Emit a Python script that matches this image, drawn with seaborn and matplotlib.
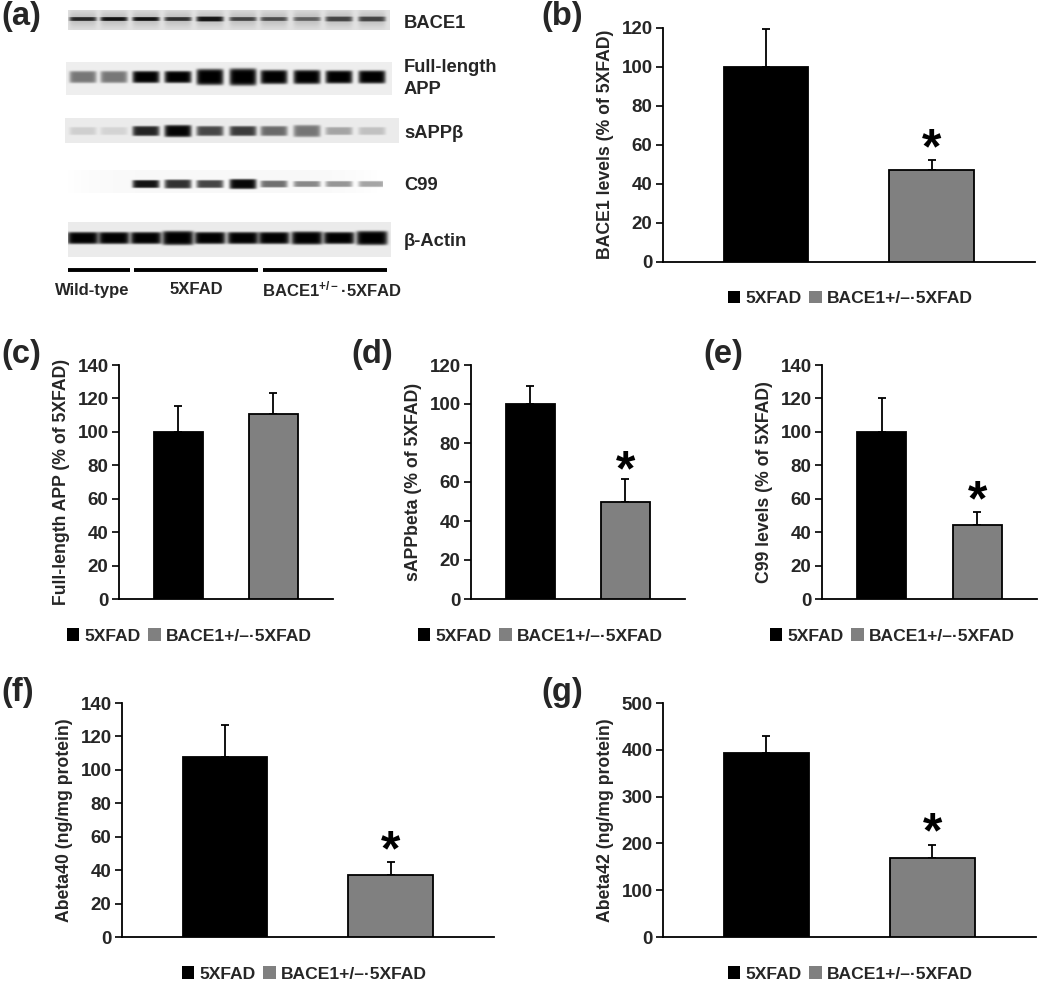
import numpy as np
import pandas as pd
import matplotlib
matplotlib.use("Agg")
import matplotlib.pyplot as plt
from matplotlib.patches import Patch
import seaborn as sns

# --- data ---
GROUPS = ["5XFAD", "BACE1+/–·5XFAD"]
COLORS = {"5XFAD": "#000000", "BACE1+/–·5XFAD": "#808080"}

BACE1_MEAN = [100, 47]
BACE1_TOP = [119, 52]
APP_MEAN = [100, 110.5]
APP_TOP = [115.5, 123]
SAPP_MEAN = [100, 49.5]
SAPP_TOP = [109, 61.5]
C99_MEAN = [100, 44.5]
C99_TOP = [120.5, 52]
AB40_MEAN = [107.5, 37]
AB40_TOP = [127, 45]
AB42_MEAN = [393, 168]
AB42_TOP = [430, 197]

TICKS_120 = [0, 20, 40, 60, 80, 100, 120]
TICKS_140 = [0, 20, 40, 60, 80, 100, 120, 140]
TICKS_500 = [0, 100, 200, 300, 400, 500]

# band darkness and half-height (px) for the ten lanes of each blot
BLOT_BACE1 = [0.80, 0.90, 0.90, 0.75, 0.90, 0.65, 0.60, 0.50, 0.65, 0.65]
BLOT_BACE1_H = [2, 2, 2, 2, 2.5, 2, 2, 2, 2.5, 2.5]
BLOT_APP = [0.50, 0.50, 1, 1, 1, 1, 1, 1, 1, 1]
BLOT_APP_H = [6, 6, 6, 6, 8, 8.5, 7, 7, 6.5, 6.5]
BLOT_SAPP = [0.12, 0.10, 0.85, 0.98, 0.70, 0.75, 0.55, 0.50, 0.30, 0.18]
BLOT_SAPP_H = [4, 4, 5, 6, 5, 5, 5, 6, 4, 4]
BLOT_C99 = [0.0, 0.0, 0.92, 0.80, 0.72, 0.97, 0.55, 0.45, 0.40, 0.35]
BLOT_C99_H = [3, 3, 4, 4.5, 4, 5, 3.5, 3, 3, 3]
BLOT_ACTIN = [1, 1, 1, 1, 1, 1, 1, 1, 1, 1]
BLOT_ACTIN_H = [6, 6, 6, 7, 6, 6, 6, 6.5, 6, 7]

LANE_X = [83, 114, 146, 178, 210, 243, 274, 307, 339, 372]
FIG_W, FIG_H = 1050, 992

sns.set_theme(style="white")
plt.rcParams["font.family"] = ["Liberation Sans", "DejaVu Sans"]
plt.rcParams["font.weight"] = "bold"
plt.rcParams["axes.labelweight"] = "bold"
plt.rcParams["mathtext.fontset"] = "custom"
plt.rcParams["mathtext.bf"] = "Liberation Sans:bold"
plt.rcParams["mathtext.rm"] = "Liberation Sans:bold"
plt.rcParams["mathtext.default"] = "bf"

fig = plt.figure(figsize=(FIG_W / 100, FIG_H / 100), dpi=100)


def px_axes(x0, y0, x1, y1):
    # pixel box of the reference -> figure axes
    return fig.add_axes([x0 / FIG_W, 1 - y1 / FIG_H, (x1 - x0) / FIG_W, (y1 - y0) / FIG_H])


def draw_blot(box, yc, dark, half, bg, smear=0.0, edge_fade=False, lane_w=13.5):
    x0, y0, x1, y1 = box
    xs = np.arange(x0, x1) + 0.5
    ys = np.arange(y0, y1) + 0.5
    img = np.full((len(ys), len(xs)), float(bg))
    if edge_fade:
        img = bg + (1 - bg) * np.abs(np.linspace(-1, 1, len(xs)))[None, :] ** 4
    for cx, d, h in zip(LANE_X, dark, half):
        prof_x = np.exp(-(np.abs(xs - cx) / lane_w) ** 8)
        prof_y = np.exp(-(np.abs(ys - yc) / h) ** 6)
        img = img * (1 - d * np.outer(prof_y, prof_x))
        if smear > 0:
            wide = np.outer(np.exp(-(np.abs(ys - yc) / 8) ** 2), prof_x)
            img = img * (1 - smear * wide)
    ax = px_axes(x0, y0, x1, y1)
    sns.heatmap(img, ax=ax, cmap="gray", vmin=0, vmax=1, cbar=False,
                xticklabels=False, yticklabels=False, rasterized=True)
    ax.set_xlabel("")
    ax.set_ylabel("")


def plot_bars(box, means, tops, ticks, ylabel, star_offset=None):
    ax = px_axes(*box)
    df = pd.DataFrame({"group": GROUPS, "value": means})
    sns.barplot(data=df, x="group", y="value", hue="group", palette=COLORS, legend=False,
                width=0.51, edgecolor="black", linewidth=1.3, ax=ax, zorder=3)
    err = [t - m for t, m in zip(tops, means)]
    ax.errorbar([0, 1], means, yerr=[[0, 0], err], fmt="none", ecolor="black",
                elinewidth=1.3, capsize=2.6, capthick=1.3, zorder=2)
    ax.set_xlim(-0.622, 1.625)
    ax.set_ylim(0, ticks[-1])
    ax.set_yticks(ticks)
    ax.set_xticks([])
    ax.set_xlabel("")
    ax.set_ylabel(ylabel, fontsize=12.7)
    ax.yaxis.set_label_coords(-49 / (box[2] - box[0]), 0.5)
    ax.tick_params(axis="y", left=True, length=5, width=1.2, labelsize=13.5, pad=2.5, color="black")
    sns.despine(ax=ax)
    for side in ["left", "bottom"]:
        ax.spines[side].set_linewidth(1.3)
        ax.spines[side].set_color("black")
    ax.patch.set_alpha(0)
    if star_offset is not None:
        ax.annotate("*", xy=(1, tops[1]), xytext=(0, star_offset), textcoords="offset points",
                    ha="center", va="center", fontsize=36, color="black")
    return ax


def add_legend(cx, cy):
    handles = [Patch(facecolor=COLORS[g], edgecolor="none", label=g) for g in GROUPS]
    fig.legend(handles=handles, loc="center", bbox_to_anchor=(cx / FIG_W, 1 - cy / FIG_H),
               ncol=2, frameon=False, fontsize=12.6, handlelength=0.73, handleheight=0.73,
               handletextpad=0.28, columnspacing=0.42, borderpad=0, borderaxespad=0)


# panel (a)
draw_blot((68, 10, 390, 30), 19, BLOT_BACE1, BLOT_BACE1_H, 0.88, smear=0.15)
draw_blot((66, 62, 392, 95), 77, BLOT_APP, BLOT_APP_H, 0.93)
draw_blot((65, 118, 399, 143), 131, BLOT_SAPP, BLOT_SAPP_H, 0.92)
draw_blot((62, 170, 383, 193), 184, BLOT_C99, BLOT_C99_H, 0.97, edge_fade=True)
draw_blot((68, 222, 391, 257), 238, BLOT_ACTIN, BLOT_ACTIN_H, 0.92, lane_w=15.5)

over = fig.add_axes([0, 0, 1, 1], zorder=10)
over.set_xlim(0, FIG_W)
over.set_ylim(FIG_H, 0)
over.axis("off")
for x0, x1 in [(68, 130), (134, 258), (263, 387)]:
    over.plot([x0, x1], [270, 270], color="black", lw=2.8, solid_capstyle="butt")
over.text(92, 290, "Wild-type", ha="center", va="center", fontsize=12)
over.text(196, 290, "5XFAD", ha="center", va="center", fontsize=12)
over.text(332, 289, "BACE1$^{+/-}$·5XFAD", ha="center", va="center", fontsize=12)
for label, y in [("BACE1", 24), ("Full-length", 67.5), ("APP", 89), ("sAPPβ", 133.5), ("C99", 186), ("β-Actin", 241)]:
    over.text(404, y, label, ha="left", va="center", fontsize=13.2)
for label, x, y in [("(a)", 1, 16), ("(b)", 541, 16), ("(c)", 1, 355), ("(d)", 351, 355),
                    ("(e)", 703, 355), ("(f)", 1, 693), ("(g)", 541, 693)]:
    over.text(x, y, label, ha="left", va="center", fontsize=23.5)

# bar panels
plot_bars((663, 27.5, 1035, 261.5), BACE1_MEAN, BACE1_TOP, TICKS_120, "BACE1 levels (% of 5XFAD)", 7)
plot_bars((119, 365, 333, 599), APP_MEAN, APP_TOP, TICKS_140, "Full-length APP (% of 5XFAD)")
plot_bars((471, 365, 685, 599), SAPP_MEAN, SAPP_TOP, TICKS_120, "sAPPbeta (% of 5XFAD)", 4.5)
plot_bars((822, 365, 1037, 599), C99_MEAN, C99_TOP, TICKS_140, "C99 levels (% of 5XFAD)", 7)
plot_bars((122, 703, 494, 937), AB40_MEAN, AB40_TOP, TICKS_140, "Abeta40 (ng/mg protein)", 6.5)
plot_bars((663, 703, 1036, 937), AB42_MEAN, AB42_TOP, TICKS_500, "Abeta42 (ng/mg protein)", 7.5)

for cx, cy in [(850, 298.5), (189, 636), (540, 636), (892, 636), (304, 974), (850, 974)]:
    add_legend(cx, cy)

fig.savefig("out.png", dpi=100, facecolor="white")
